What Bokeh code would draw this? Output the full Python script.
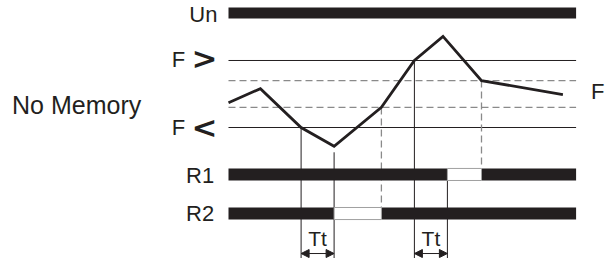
from bokeh.plotting import figure
from bokeh.models import Range1d, Arrow, NormalHead, ColumnDataSource
from bokeh.core.properties import value
from bokeh.embed import file_html
from bokeh.resources import INLINE

# ---------------- data (time in s, frequency in Hz) ----------------
t_curve = [0.0, 2.9, 6.6, 9.6, 13.9, 16.9, 19.5, 23.0, 30.4]
f_curve = [48.7, 50.8, 45.0, 42.2, 48.0, 55.0, 58.6, 52.0, 49.9]
F_HIGH = 55.0          # F >
F_HIGH_RESET = 52.0    # hysteresis (dashed)
F_LOW = 45.0           # F <
F_LOW_RESET = 48.0     # hysteresis (dashed)
TT = 3.0               # trip delay Tt
T_START = 0.0
T_END = 31.6
t_low_trip = 6.6       # F falls below F<
t_low_reset = 13.9     # F back above reset level
t_high_trip = 16.9     # F rises above F>
t_high_reset = 23.0    # F back below reset level
row_labels = ["Un", "R1", "R2"]

# ---------------- layout (diagram units) ----------------
Y_BOTTOM, Y_TOP = 25.448, 63.955
UN_Y0, UN_Y1 = 61.27, 62.91
R1_C, R2_C, BAR_H = 37.99, 32.16, 0.9
ARROW_Y, TT_Y = 26.19, 28.5
INK = "#231f20"
GREY = "#8a8a8a"
FONT = value("Liberation Sans")

p = figure(width=605, height=258,
           x_range=Range1d(-20.727, 34.273), y_range=Range1d(Y_BOTTOM, Y_TOP),
           output_backend="svg", toolbar_location=None, min_border=0,
           x_axis_location=None, y_axis_location=None)
p.xgrid.visible = False
p.ygrid.visible = False
p.outline_line_color = None
p.background_fill_color = "white"
p.border_fill_color = "white"

# threshold lines
p.segment(x0=[T_START, T_START], x1=[T_END, T_END], y0=[F_HIGH, F_LOW], y1=[F_HIGH, F_LOW],
          line_color=INK, line_width=1)
p.segment(x0=[T_START, T_START], x1=[T_END, T_END],
          y0=[F_HIGH_RESET, F_LOW_RESET], y1=[F_HIGH_RESET, F_LOW_RESET],
          line_color=GREY, line_width=1.3, line_dash="7 4")

r1_off = (t_high_trip + TT, t_high_reset)
r2_off = (t_low_trip + TT, t_low_reset)

# dashed vertical drops at reset points
p.segment(x0=[t_low_reset, t_high_reset], x1=[t_low_reset, t_high_reset],
          y0=[F_LOW_RESET, F_HIGH_RESET], y1=[R2_C + BAR_H, R1_C + BAR_H],
          line_color=GREY, line_width=1.3, line_dash="7 4")

# solid vertical markers (trip instants and trip+Tt)
p.segment(x0=[t_low_trip, t_low_trip + TT, t_high_trip, t_high_trip + TT],
          x1=[t_low_trip, t_low_trip + TT, t_high_trip, t_high_trip + TT],
          y0=[F_LOW, 41.3, F_HIGH, R1_C - BAR_H],
          y1=[Y_BOTTOM] * 4, line_color=INK, line_width=1)

# Un bar
p.quad(left=[T_START], right=[T_END], bottom=[UN_Y0], top=[UN_Y1],
       fill_color=INK, line_color=None)

# relay bars: on segments black, off segments white with grey outline
on_left = [T_START, r1_off[1], T_START, r2_off[1]]
on_right = [r1_off[0], T_END, r2_off[0], T_END]
on_c = [R1_C, R1_C, R2_C, R2_C]
p.quad(left=on_left, right=on_right,
       bottom=[c - BAR_H for c in on_c], top=[c + BAR_H for c in on_c],
       fill_color=INK, line_color=None)
p.quad(left=[r1_off[0], r2_off[0]], right=[r1_off[1], r2_off[1]],
       bottom=[R1_C - BAR_H, R2_C - BAR_H], top=[R1_C + BAR_H, R2_C + BAR_H],
       fill_color="white", line_color="#a0a0a0", line_width=1)

# frequency curve
p.line(t_curve, f_curve, line_color=INK, line_width=2.8, line_join="miter")

# Tt arrows
arr_src = ColumnDataSource(dict(x0=[t_low_trip, t_high_trip], x1=[t_low_trip + TT, t_high_trip + TT],
                                y=[ARROW_Y, ARROW_Y]))
p.add_layout(Arrow(start=NormalHead(size=8, fill_color=INK, line_color=INK, line_width=1),
                   end=NormalHead(size=8, fill_color=INK, line_color=INK, line_width=1),
                   x_start="x0", x_end="x1", y_start="y", y_end="y",
                   line_color=INK, line_width=1, source=arr_src))
p.text(x=[t_low_trip + TT / 2, t_high_trip + TT / 2], y=[TT_Y, TT_Y], text=["Tt", "Tt"],
       text_font=FONT, text_font_size="21px", text_color=INK,
       text_align="center", text_baseline="middle")

# row labels
p.text(x=[-1.0, -1.3, -1.3], y=[61.87, 37.84, 32.09], text=row_labels,
       text_font=FONT, text_font_size="22px", text_color=INK,
       text_align="right", text_baseline="middle")
p.text(x=[-5.15, -5.15], y=[55.22, 45.0], text=["F", "F"],
       text_font=FONT, text_font_size="22px", text_color=INK,
       text_align="left", text_baseline="middle")
p.text(x=[-1.0, -1.0], y=[55.3, 45.1], text=[">", "<"],
       text_font=value("DejaVu Sans"), text_font_size="31px", text_font_style="bold",
       text_color=INK, text_align="right", text_baseline="middle")
p.text(x=[-19.68], y=[48.43], text=["No Memory"],
       text_font=FONT, text_font_size="25px", text_color=INK,
       text_align="left", text_baseline="middle")
p.text(x=[32.95], y=[50.37], text=["F"],
       text_font=FONT, text_font_size="22px", text_color=INK,
       text_align="left", text_baseline="middle")

open("out.html", "w").write(file_html(p, INLINE))
